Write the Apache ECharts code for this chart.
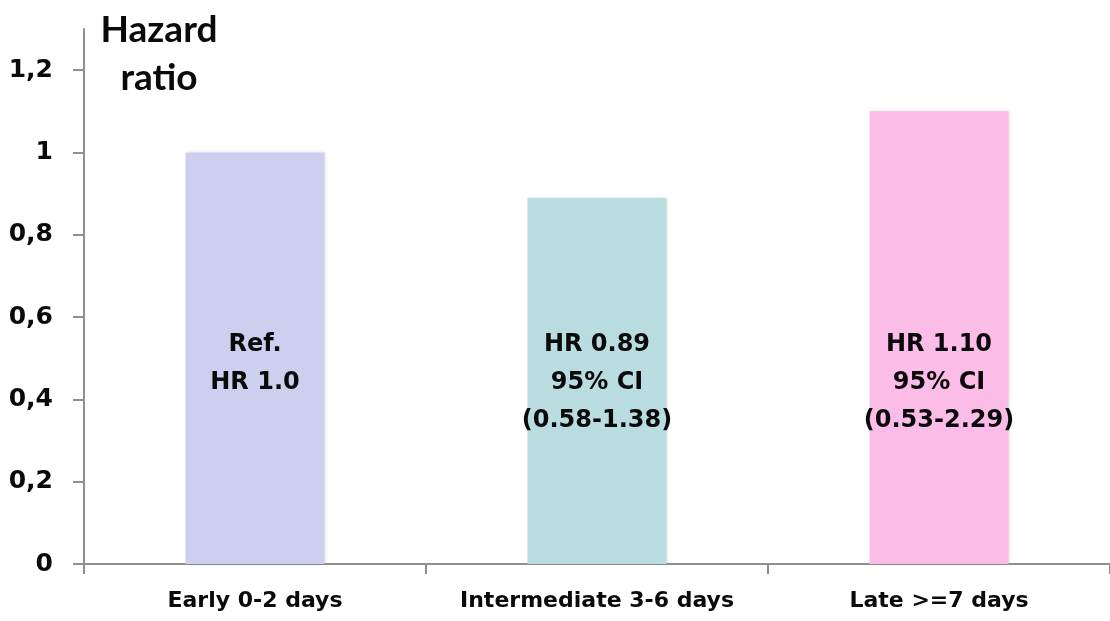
<!DOCTYPE html>
<html>
<head>
<meta charset="utf-8">
<script src="https://cdn.jsdelivr.net/npm/echarts@6/dist/echarts.min.js"></script>
<style>
  html, body { margin: 0; padding: 0; background: #ffffff; }
  #chart { width: 1110px; height: 621px; }
</style>
</head>
<body>
<div id="chart"></div>
<script>
// Timing groups and their hazard ratios (reference group = 1.0)
const categories = ['Early 0-2 days', 'Intermediate 3-6 days', 'Late >=7 days'];
const hazardRatios = [1.0, 0.89, 1.10];
const ciLow = [null, 0.58, 0.53];
const ciHigh = [null, 1.38, 2.29];
const barColors = ['#cecfee', '#b8dce0', '#fbbde8'];
const yTicks = [0, 0.2, 0.4, 0.6, 0.8, 1.0, 1.2];
// height (in axis units) where the in-bar annotation text starts
const annotationTop = [0.58, 0.58, 0.58];

const fontMain = 'DejaVu Sans';
const textColor = '#0a0a0a';
const axisColor = '#8f8f8f';

function annotation(i) {
  if (ciLow[i] === null) {
    return 'Ref.\nHR ' + hazardRatios[i].toFixed(1);
  }
  return 'HR ' + hazardRatios[i].toFixed(2) + '\n95% CI\n(' +
    ciLow[i].toFixed(2) + '-' + ciHigh[i].toFixed(2) + ')';
}

const chart = echarts.init(document.getElementById('chart'), null, { renderer: 'canvas' });

chart.setOption({
  backgroundColor: '#ffffff',
  animation: false,
  title: {
    text: 'Hazard\nratio',
    left: 154,
    top: 1,
    textAlign: 'center',
    textStyle: {
      fontFamily: 'Lato',
      fontWeight: 'bold',
      fontSize: 37,
      lineHeight: 48,
      color: textColor
    }
  },
  grid: { left: 84, top: 29, bottom: 57, width: 1035 },
  xAxis: {
    type: 'category',
    data: categories,
    axisLine: { lineStyle: { color: axisColor, width: 2 } },
    axisTick: { show: true, interval: 0, length: 10, lineStyle: { color: axisColor, width: 2 } },
    axisLabel: {
      interval: 0,
      margin: 26,
      fontFamily: fontMain,
      fontWeight: 'bold',
      fontSize: 22,
      color: textColor
    },
    splitLine: { show: false }
  },
  yAxis: {
    type: 'value',
    min: 0,
    max: 1.3,
    interval: 0.2,
    axisLine: { show: true, lineStyle: { color: axisColor, width: 2 } },
    axisTick: {
      show: true,
      length: 11,
      customValues: yTicks,
      lineStyle: { color: axisColor, width: 2 }
    },
    axisLabel: {
      customValues: yTicks,
      margin: 31,
      fontFamily: fontMain,
      fontWeight: 'bold',
      fontSize: 25,
      color: textColor,
      formatter: function (v) { return String(Number(v.toFixed(1))).replace('.', ','); }
    },
    splitLine: { show: false }
  },
  series: [
    {
      type: 'bar',
      barWidth: 139,
      data: hazardRatios.map(function (v, i) {
        return {
          value: v,
          itemStyle: {
            color: barColors[i],
            shadowColor: 'rgba(0,0,0,0.12)',
            shadowBlur: 3,
            shadowOffsetX: 1,
            shadowOffsetY: 0
          }
        };
      }),
      silent: true,
      z: 2
    },
    {
      type: 'scatter',
      symbolSize: 0,
      silent: true,
      z: 3,
      itemStyle: { opacity: 1 },
      data: annotationTop.map(function (v, i) {
        return {
          value: v,
          label: {
            show: true,
            position: 'bottom',
            distance: 0,
            formatter: annotation(i),
            fontFamily: fontMain,
            fontWeight: 'bold',
            fontSize: 24,
            lineHeight: 38,
            align: 'center',
            color: textColor
          }
        };
      })
    }
  ]
});
</script>
</body>
</html>
